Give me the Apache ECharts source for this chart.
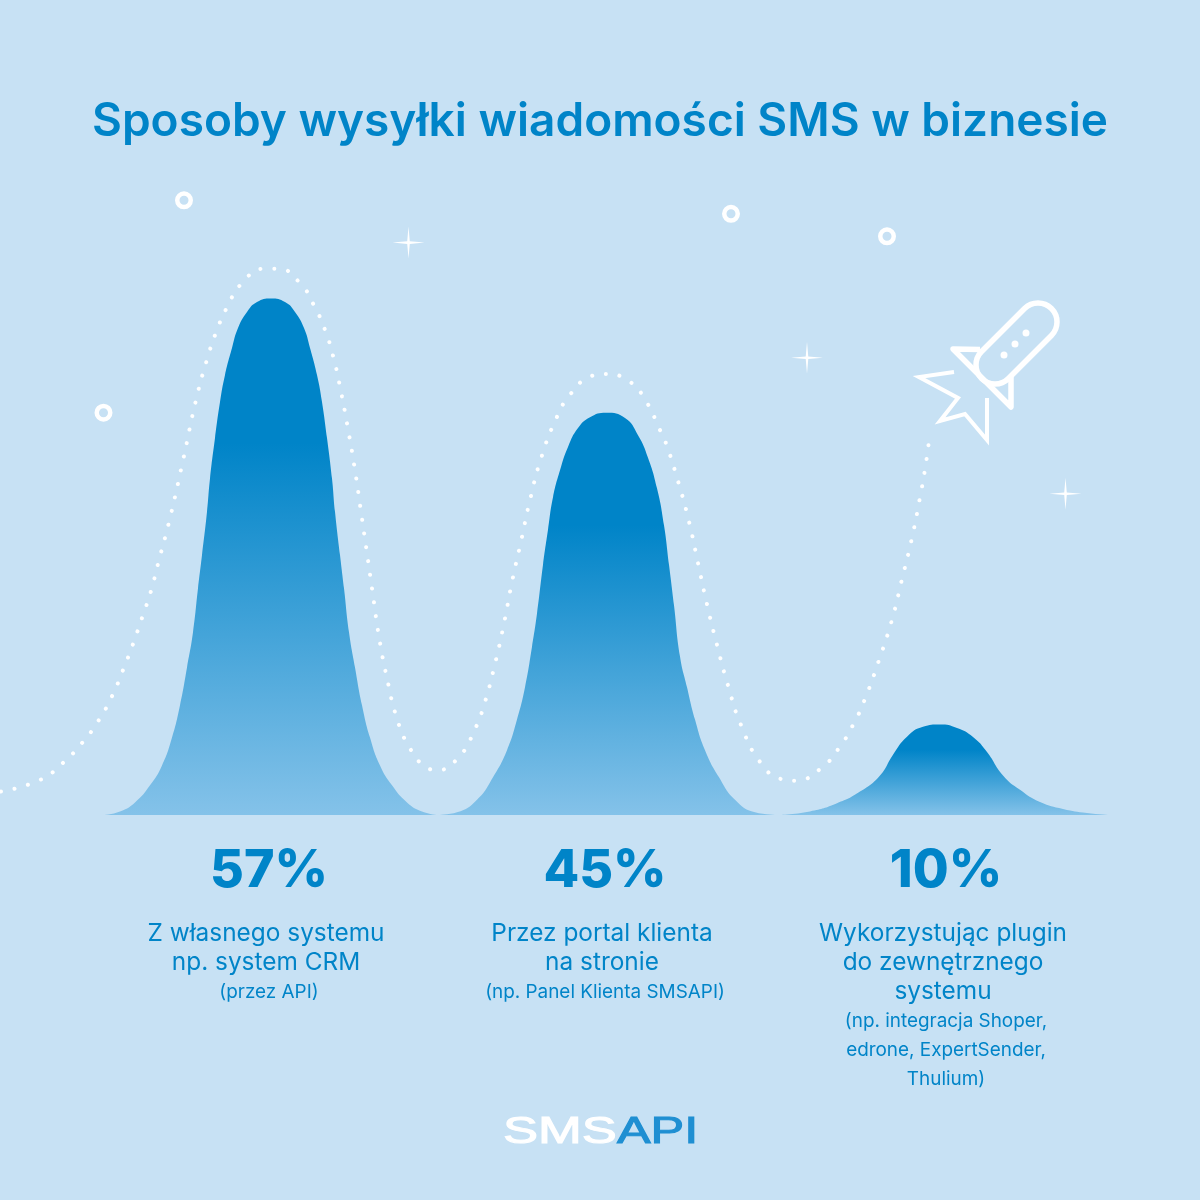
<!DOCTYPE html>
<html lang="pl">

<head>
  <meta charset="UTF-8">
  <title>Sposoby wysyłki wiadomości SMS w biznesie</title>
  <style>
    body {
      margin: 0;
      padding: 0;
    }

    #chart {
      width: 1200px;
      height: 1200px;
    }
  </style>
</head>

<body>
  <div id="chart"></div>

  <script src="https://cdn.jsdelivr.net/npm/echarts@6/dist/echarts.min.js"></script>
  <script>
    var titleText = 'Sposoby wysyłki wiadomości SMS w biznesie';
    var shares = ['57%', '45%', '10%'];

    // outlines: x along the baseline, y in percent
    var apiX = [103, 120, 135, 150, 162, 172, 180, 187, 193, 198, 202, 207, 210, 215, 220, 225, 232, 238, 247, 257, 271, 285, 295, 304, 310, 317, 322, 327, 332, 335, 340, 344, 349, 355, 362, 370, 380, 392, 407, 422, 438];
    var apiY = [0, 0.4, 1.4, 3.3, 5.5, 8.6, 12.2, 16.4, 20.3, 25.2, 28.9, 33.7, 37.4, 41.9, 45.9, 48.9, 51.9, 54.1, 55.9, 57, 57.4, 57, 55.9, 54.1, 51.9, 48.9, 45.9, 41.9, 37.4, 33.7, 28.9, 25.2, 20.3, 16.4, 12.2, 8.6, 5.5, 3.3, 1.4, 0.4, 0];
    var portalX = [438, 457, 477, 493, 507, 517, 525, 532, 537, 543, 548, 553, 560, 568, 578, 590, 606, 625, 638, 648, 657, 664, 669, 674, 680, 687, 695, 705, 719, 735, 755, 777];
    var portalY = [0, 0.3, 1.7, 4.2, 7.2, 10.6, 14.2, 18.7, 22.4, 27.8, 31.7, 35.3, 38.3, 40.9, 43, 44.2, 44.7, 44.1, 42.2, 39.7, 36.3, 32.2, 27.8, 23.3, 17.6, 14.2, 10.6, 7.2, 4.2, 1.7, 0.3, 0];
    var pluginX = [777, 810, 837, 860, 880, 893, 907, 923, 940, 957, 973, 987, 1003, 1020, 1040, 1063, 1087, 1110];
    var pluginY = [0, 0.4, 1.3, 2.6, 4.4, 6.7, 8.7, 9.8, 10.06, 9.67, 8.67, 7, 4.4, 2.8, 1.44, 0.67, 0.22, 0];

    // dotted flight path
    var pathX = [1, 40, 63, 82, 98, 112, 123, 133, 142, 151, 158, 170, 183, 196, 207, 216, 227, 242, 264, 278, 300, 315, 326, 334, 340, 348, 355, 361, 367, 373, 379, 387, 397, 408, 425, 438, 460, 474, 484, 495, 504, 512, 521, 530, 541, 556, 570, 590, 604, 629, 647, 659, 665, 678, 689, 698, 707, 717, 728, 741, 760, 781, 795, 820, 838, 853, 865, 879, 892, 902, 912, 920, 925, 929];
    var pathY = [2.6, 3.9, 5.8, 8, 10.4, 13.2, 16.1, 19, 21.9, 24.9, 27.9, 33, 39.4, 46.1, 50.6, 53.6, 56.4, 59.1, 60.7, 60.7, 59.1, 56.4, 53.6, 50.6, 47.6, 42.9, 38.3, 33.7, 29.1, 24.4, 19.8, 15.2, 10.7, 7.8, 5.4, 5, 6.6, 9.3, 12.2, 16.8, 21.3, 25.9, 30.4, 35, 39.6, 44, 46.7, 48.7, 49, 48.2, 45.8, 43, 41.6, 37.1, 32.6, 28, 23.4, 18.9, 14.4, 10, 5.9, 4, 3.8, 5.1, 7.3, 10, 12.9, 17.2, 21.7, 26.2, 30.8, 35.3, 38.4, 41.6];

    var ringPoints = [[184, 68.3], [103.5, 44.7], [731, 66.8], [887, 64.3]];
    var starPoints = [[408.5, 63.6], [807, 50.8], [1065.5, 35.7]];

    var captions = [
      ['Z własnego systemu', 'np. system CRM'],
      ['Przez portal klienta', 'na stronie'],
      ['Wykorzystując plugin', 'do zewnętrznego', 'systemu']
    ];
    var notes = [
      ['(przez API)'],
      ['(np. Panel Klienta SMSAPI)'],
      ['(np. integracja Shoper,', 'edrone, ExpertSender,', 'Thulium)']
    ];

    var BG = '#C7E1F4';
    var BLUE = '#0084C8';
    var FONT = 'Inter';

    var chart = echarts.init(document.getElementById('chart'));

    function zip(xs, ys) {
      return xs.map(function (x, i) {
        return [x, ys[i]];
      });
    }

    function bump(name, xs, ys) {
      return {
        name: name,
        type: 'line',
        data: zip(xs, ys),
        smooth: 0.5,
        showSymbol: false,
        lineStyle: { width: 0 },
        areaStyle: {
          opacity: 1,
          color: new echarts.graphic.LinearGradient(0, 0, 0, 1, [
            { offset: 0, color: BLUE },
            { offset: 0.28, color: BLUE },
            { offset: 1, color: '#84C2E9' }
          ])
        }
      };
    }

    var star = 'path://M50 0L54 46L100 50L54 54L50 100L46 54L0 50L46 46Z';

    // texts under the bumps
    var colShare = [269, 605, 946];
    var colCaption = [266, 602, 943];
    var colNote = [269, 605, 946];
    var texts = [];

    function addText(str, x, y, size, weight, color) {
      texts.push({
        type: 'text',
        x: x,
        y: y,
        style: {
          text: str,
          fill: color || BLUE,
          font: weight + ' ' + size + 'px ' + FONT,
          textAlign: 'center',
          textVerticalAlign: 'middle'
        }
      });
    }

    shares.forEach(function (s, i) {
      addText(s, colShare[i], 871, 52, 800);
    });
    captions.forEach(function (lines, i) {
      lines.forEach(function (line, j) {
        addText(line, colCaption[i], 934 + j * 29, 24.4, 400);
      });
      notes[i].forEach(function (line, j) {
        addText(line, colNote[i], 934 + lines.length * 29 + j * 29, 18.9, 400);
      });
    });

    // rocket
    var white = { stroke: '#fff', fill: null, lineWidth: 5.5, lineJoin: 'round' };
    var rocket = [
      {
        type: 'polyline',
        shape: { points: [[980, 349.5], [953, 349], [1011, 407], [1011, 377]] },
        style: white
      },
      {
        type: 'rect',
        x: 1016.5,
        y: 343.5,
        rotation: Math.PI / 4,
        shape: { x: -49.4, y: -19, width: 98.8, height: 38, r: 19 },
        style: white
      },
      {
        type: 'polyline',
        shape: { points: [[954, 372], [919, 377], [958, 398], [940, 421], [965, 414], [987, 440], [987, 398]] },
        style: { stroke: '#fff', fill: null, lineWidth: 4, lineJoin: 'miter' }
      },
      { type: 'circle', shape: { cx: 1026, cy: 333, r: 3.5 }, style: { fill: '#fff' } },
      { type: 'circle', shape: { cx: 1015, cy: 344, r: 3.5 }, style: { fill: '#fff' } },
      { type: 'circle', shape: { cx: 1004, cy: 355, r: 3.5 }, style: { fill: '#fff' } }
    ];

    // logo
    var logo = [
      {
        type: 'text', x: 503, y: 1133, scaleX: 1.46,
        style: { text: 'SMS', fill: '#fff', stroke: '#fff', lineWidth: 1, font: '400 36px "Liberation Sans"', textAlign: 'left', textVerticalAlign: 'middle' }
      },
      {
        type: 'text', x: 617, y: 1133, scaleX: 1.4,
        style: { text: 'API', fill: '#1F8FD2', stroke: '#1F8FD2', lineWidth: 1, font: '400 36px "Liberation Sans"', textAlign: 'left', textVerticalAlign: 'middle' }
      }
    ];

    var option = {
      animation: false,
      backgroundColor: BG,
      title: {
        text: titleText,
        left: 'center',
        top: 94,
        textStyle: { color: BLUE, fontFamily: FONT, fontWeight: 600, fontSize: 46 }
      },
      grid: { left: 0, right: 0, top: 0, bottom: 385 },
      xAxis: { type: 'value', min: 0, max: 1200, show: false },
      yAxis: { type: 'value', min: 0, max: 815 / 9, show: false },
      series: [
        bump('Z własnego systemu', apiX, apiY),
        bump('Przez portal klienta', portalX, portalY),
        bump('Wykorzystując plugin', pluginX, pluginY),
        {
          name: 'tor',
          type: 'line',
          data: zip(pathX, pathY),
          smooth: 0.5,
          showSymbol: false,
          lineStyle: { color: '#fff', width: 4, cap: 'round', type: [0.01, 13.9] }
        },
        {
          name: 'rings',
          type: 'scatter',
          data: ringPoints,
          symbol: 'circle',
          symbolSize: 13.5,
          itemStyle: { color: 'transparent', borderColor: '#fff', borderWidth: 4.5, opacity: 1 }
        },
        {
          name: 'stars',
          type: 'scatter',
          data: starPoints,
          symbol: star,
          symbolSize: 32,
          itemStyle: { color: '#fff', opacity: 1 }
        }
      ],
      graphic: texts.concat(rocket, logo)
    };

    chart.setOption(option);
  </script>
</body>

</html>
